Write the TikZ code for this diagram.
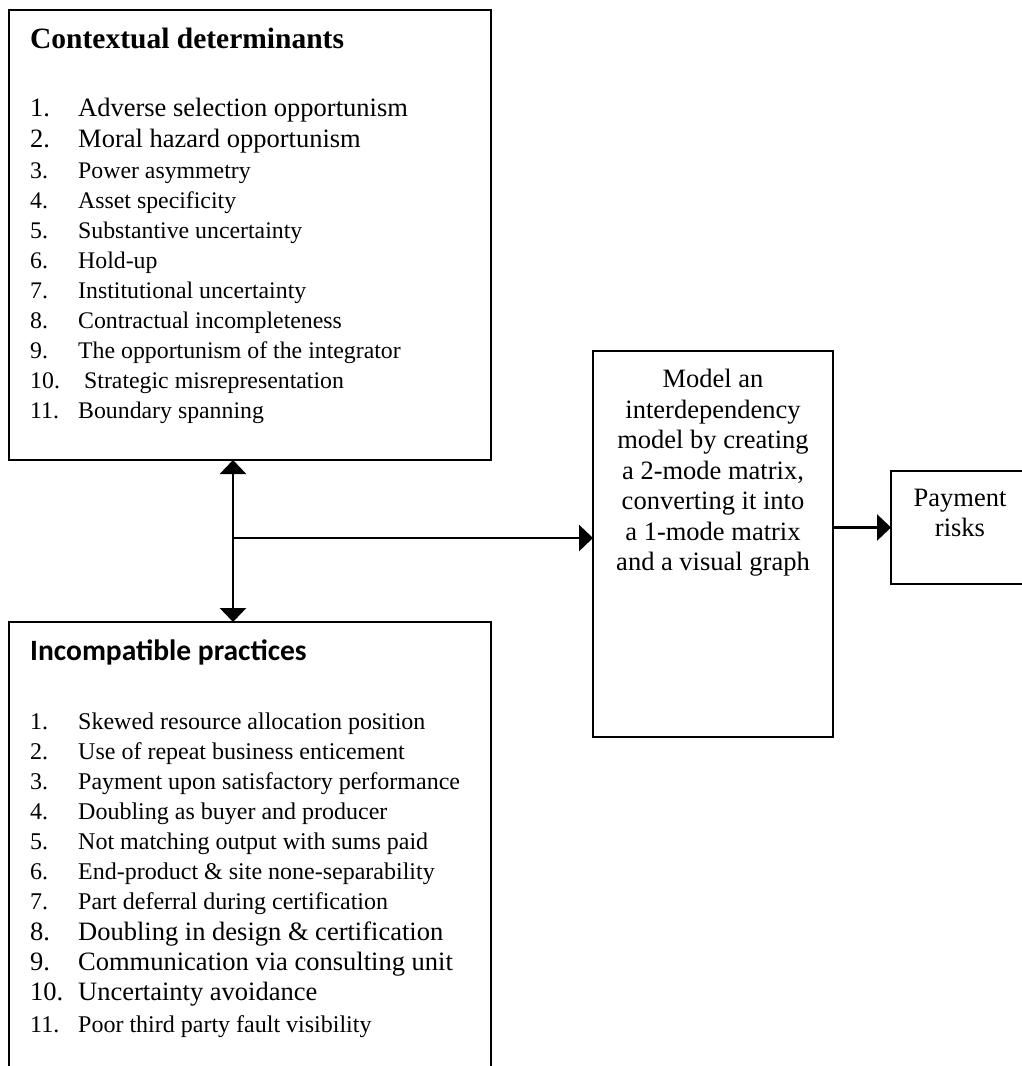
\documentclass[tikz,border=0pt]{standalone}
\usepackage{fontspec}
\setmainfont{Liberation Serif}
\newfontfamily\headsans{Carlito}
\usetikzlibrary{arrows.meta}

\tikzset{
  >={Triangle[length=14pt, width=26pt]},
  box/.style={draw, line width=2.7pt, inner sep=0pt, outer sep=0pt},
  item/.style={anchor=base west, inner sep=0pt},
  link/.style={line width=2.8pt}
}

\begin{document}
\begin{tikzpicture}[x=1pt, y=-1pt]
  \useasboundingbox (0, 0) rectangle (1022, 1066);
  \clip (0, 0) rectangle (1022, 1066);

  % boxes
  \node[box, minimum width=482pt, minimum height=450pt] (ctx) at (250, 235) {};
  \node[box, minimum width=482pt, minimum height=460pt] (inc) at (250, 852) {};
  \node[box, minimum width=240pt, minimum height=386pt] (model) at (713, 544) {};
  \node[box, minimum width=139pt, minimum height=113pt] (pay) at (960.5, 527.5) {};

  % headings
  \node[item, font=\fontsize{29.5}{29.5}\selectfont\bfseries] (ctxhead) at (30, 48) {Contextual determinants};
  \node[item, font=\fontsize{29.5}{29.5}\selectfont\headsans\bfseries] (inchead) at (30, 660) {Incompatible practices};

  % contextual determinants
  \foreach \n / \yb / \s / \xt / \txt in {
    1/116/26.5/78/Adverse selection opportunism,
    2/147/26.5/78/Moral hazard opportunism,
    3/178/23.8/78/Power asymmetry,
    4/208/23.8/78/Asset specificity,
    5/238/23.8/78/Substantive uncertainty,
    6/268/23.8/78/Hold-up,
    7/298/23.8/78/Institutional uncertainty,
    8/328/23.8/78/Contractual incompleteness,
    9/358/23.8/78/The opportunism of the integrator,
    10/388/23.8/84/Strategic misrepresentation,
    11/418/23.8/78/Boundary spanning
  }{
    \node[item, font=\fontsize{\s}{\s}\selectfont] (ctxnum-\n) at (30, \yb) {\n.};
    \node[item, font=\fontsize{\s}{\s}\selectfont] (ctxtxt-\n) at (\xt, \yb) {\txt};
  }

  % incompatible practices
  \foreach \n / \yb / \s / \txt in {
    1/729/24/Skewed resource allocation position,
    2/759/24/Use of repeat business enticement,
    3/789/24/Payment upon satisfactory performance,
    4/819/24/Doubling as buyer and producer,
    5/849/24/Not matching output with sums paid,
    6/879/24/End-product \& site none-separability,
    7/909/24/Part deferral during certification,
    8/940/26.5/Doubling in design \& certification,
    9/970/26.5/Communication via consulting unit,
    10/1000/26.5/Uncertainty avoidance,
    11/1032/24/Poor third party fault visibility
  }{
    \node[item, font=\fontsize{\s}{\s}\selectfont] (incnum-\n) at (30, \yb) {\n.};
    \node[item, font=\fontsize{\s}{\s}\selectfont] (inctxt-\n) at (78, \yb) {\txt};
  }

  % right hand texts
  \node[inner sep=0pt, anchor=north, align=center,
        font=\fontsize{26.5}{30.5}\selectfont] (modeltxt) at (713, 369)
    {Model an\\interdependency\\model by creating\\a 2-mode matrix,\\converting it into\\a 1-mode matrix\\and a visual graph};
  \node[inner sep=0pt, anchor=north, align=center,
        font=\fontsize{26.5}{30}\selectfont] (paytxt) at (960, 489)
    {Payment\\risks};

  % connectors
  \coordinate (split) at (233, 538);
  \draw[link, <->] (ctx.south -| split) -- (inc.north -| split);
  \draw[link, ->] (split) -- (model.west |- split);
  \draw[link, ->] (model.east |- pay.west) -- (pay.west);
\end{tikzpicture}
\end{document}
